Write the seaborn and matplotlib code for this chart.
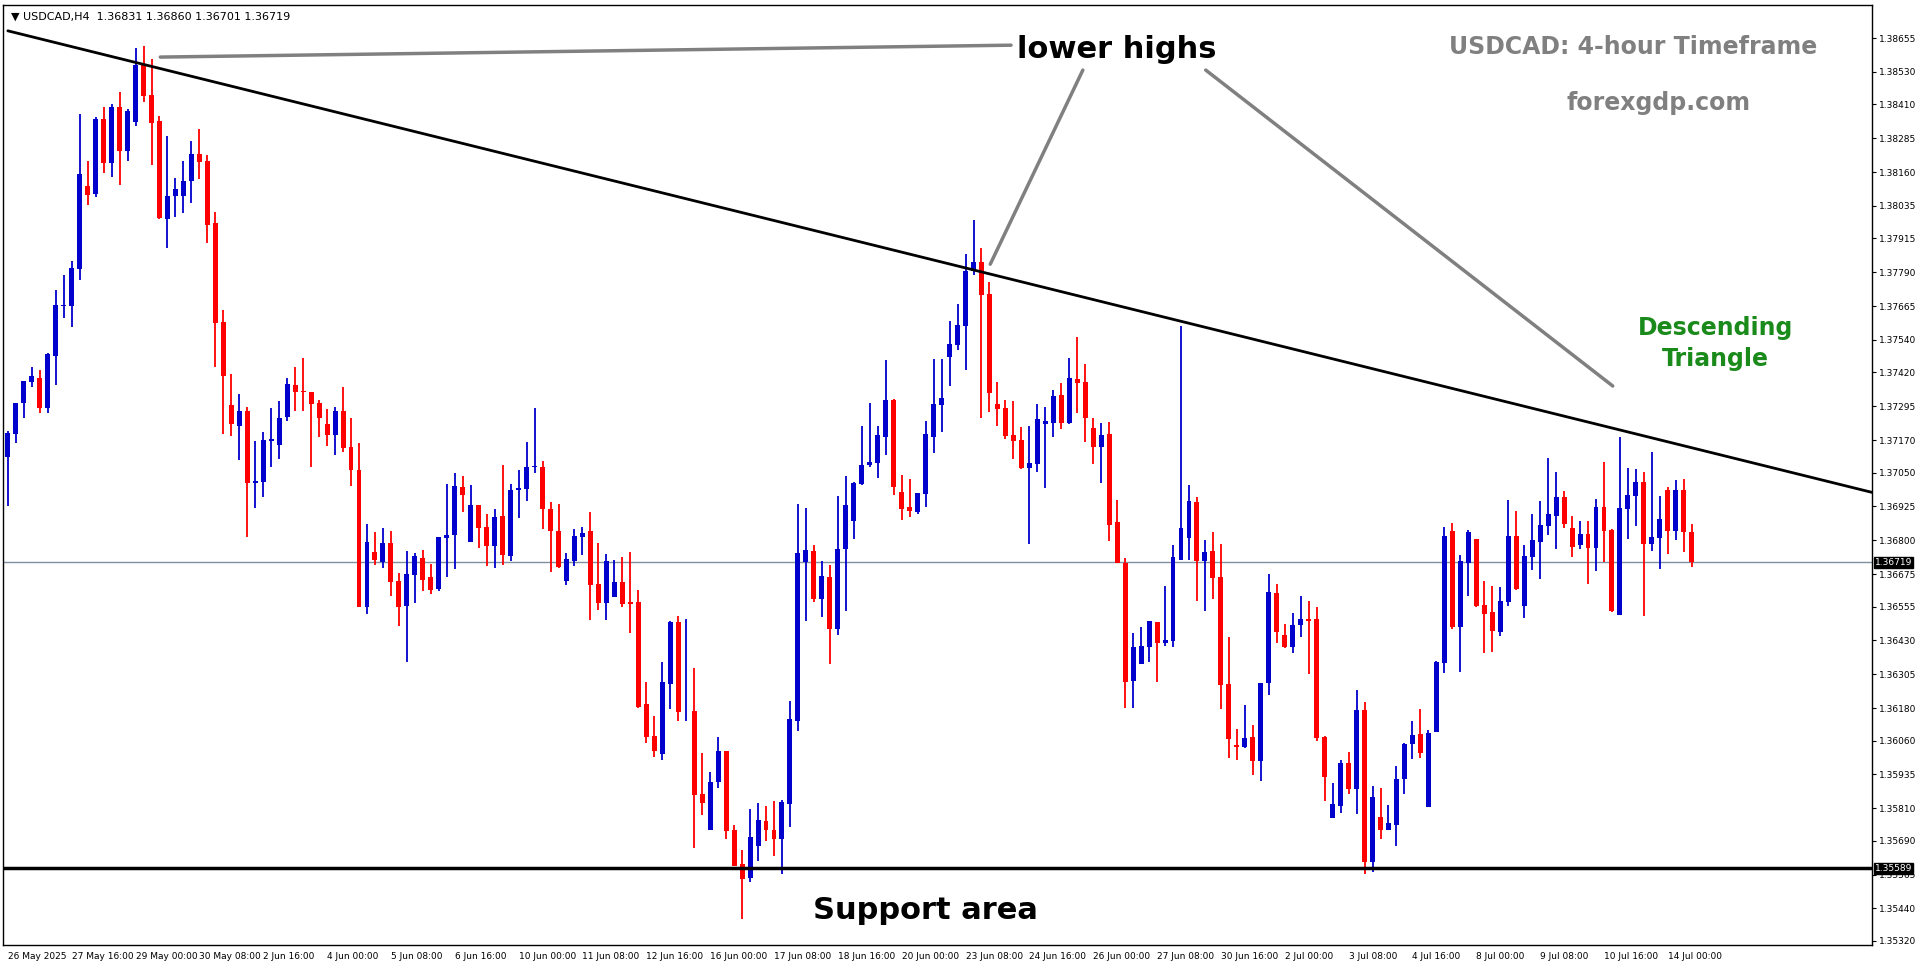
import numpy as np
import pandas as pd
import matplotlib
matplotlib.use("Agg")
import matplotlib.pyplot as plt
import seaborn as sns

# USDCAD H4 candles
opens = [
    1.37109, 1.37193, 1.37306, 1.37383, 1.37399, 1.37290, 1.37482, 1.37667, 1.37667, 1.37801,
    1.38109, 1.38079, 1.38358, 1.38193, 1.38399, 1.38239, 1.38344, 1.38556, 1.38444, 1.38350,
    1.37987, 1.38072, 1.38072, 1.38126, 1.38228, 1.38200, 1.37971, 1.37605, 1.37298, 1.37223,
    1.37276, 1.37011, 1.37015, 1.37165, 1.37153, 1.37257, 1.37374, 1.37353, 1.37349, 1.37306,
    1.37229, 1.37189, 1.37278, 1.37146, 1.37060, 1.36555, 1.36757, 1.36721, 1.36789, 1.36650,
    1.36559, 1.36672, 1.36735, 1.36666, 1.36621, 1.36810, 1.36820, 1.36997, 1.36792, 1.36931,
    1.36850, 1.36779, 1.36890, 1.36742, 1.36984, 1.36990, 1.37070, 1.37072, 1.36916, 1.36836,
    1.36651, 1.36725, 1.36814, 1.36835, 1.36639, 1.36570, 1.36589, 1.36646, 1.36573, 1.36573,
    1.36196, 1.36078, 1.36009, 1.36271, 1.36499, 1.36164, 1.36169, 1.35863, 1.35730, 1.35907,
    1.36022, 1.35730, 1.35604, 1.35554, 1.35672, 1.35763, 1.35730, 1.35698, 1.35827, 1.36134,
    1.36721, 1.36760, 1.36583, 1.36664, 1.36472, 1.36768, 1.36871, 1.37008, 1.37078, 1.37085,
    1.37181, 1.37318, 1.36978, 1.36923, 1.36904, 1.36971, 1.37181, 1.37300, 1.37477, 1.37521,
    1.37591, 1.37794, 1.37828, 1.37709, 1.37303, 1.37288, 1.37189, 1.37170, 1.37067, 1.37082,
    1.37229, 1.37233, 1.37336, 1.37233, 1.37395, 1.37384, 1.37215, 1.37144, 1.37192, 1.36867,
    1.36716, 1.36280, 1.36343, 1.36406, 1.36498, 1.36421, 1.36428, 1.36728, 1.36810, 1.36941,
    1.36724, 1.36760, 1.36664, 1.36269, 1.36043, 1.36038, 1.36074, 1.35986, 1.36273, 1.36606,
    1.36450, 1.36406, 1.36487, 1.36509, 1.36509, 1.36074, 1.35776, 1.35820, 1.35978, 1.35883,
    1.36173, 1.35613, 1.35778, 1.35728, 1.35750, 1.35920, 1.36049, 1.36085, 1.35816, 1.36093,
    1.36348, 1.36834, 1.36480, 1.36717, 1.36805, 1.36562, 1.36535, 1.36461, 1.36573, 1.36815,
    1.36558, 1.36739, 1.36795, 1.36854, 1.36891, 1.36960, 1.36845, 1.36783, 1.36823, 1.36772,
    1.36923, 1.36838, 1.36525, 1.36915, 1.36963, 1.37015, 1.36787, 1.36809, 1.36985, 1.36835,
    1.36985, 1.36831,
]
highs = [
    1.37202, 1.37309, 1.37390, 1.37439, 1.37429, 1.37491, 1.37725, 1.37780, 1.37832, 1.38375,
    1.38200, 1.38365, 1.38399, 1.38412, 1.38457, 1.38392, 1.38619, 1.38626, 1.38577, 1.38367,
    1.38294, 1.38140, 1.38201, 1.38275, 1.38318, 1.38225, 1.38014, 1.37651, 1.37413, 1.37340,
    1.37294, 1.37165, 1.37199, 1.37288, 1.37315, 1.37399, 1.37439, 1.37475, 1.37349, 1.37319,
    1.37285, 1.37294, 1.37367, 1.37251, 1.37161, 1.36860, 1.36831, 1.36845, 1.36834, 1.36679,
    1.36761, 1.36752, 1.36765, 1.36713, 1.36813, 1.37008, 1.37049, 1.37038, 1.37005, 1.36931,
    1.36898, 1.36916, 1.37079, 1.37008, 1.37060, 1.37163, 1.37289, 1.37093, 1.36942, 1.36935,
    1.36754, 1.36842, 1.36850, 1.36905, 1.36790, 1.36750, 1.36728, 1.36739, 1.36757, 1.36617,
    1.36277, 1.36152, 1.36351, 1.36502, 1.36521, 1.36510, 1.36329, 1.36014, 1.35944, 1.36073,
    1.36022, 1.35747, 1.35656, 1.35807, 1.35830, 1.35819, 1.35837, 1.35841, 1.36206, 1.36934,
    1.36918, 1.36783, 1.36723, 1.36709, 1.36963, 1.37037, 1.37016, 1.37222, 1.37307, 1.37222,
    1.37466, 1.37322, 1.37041, 1.37026, 1.36975, 1.37240, 1.37469, 1.37469, 1.37610, 1.37673,
    1.37857, 1.37983, 1.37880, 1.37754, 1.37384, 1.37318, 1.37314, 1.37218, 1.37222, 1.37303,
    1.37292, 1.37355, 1.37381, 1.37473, 1.37551, 1.37451, 1.37251, 1.37233, 1.37237, 1.36949,
    1.36735, 1.36458, 1.36480, 1.36502, 1.36498, 1.36631, 1.36783, 1.37591, 1.37004, 1.36960,
    1.36801, 1.36831, 1.36786, 1.36443, 1.36103, 1.36192, 1.36118, 1.36273, 1.36676, 1.36639,
    1.36491, 1.36532, 1.36594, 1.36576, 1.36554, 1.36077, 1.35904, 1.35989, 1.36018, 1.36247,
    1.36203, 1.35893, 1.35885, 1.35822, 1.35967, 1.36051, 1.36133, 1.36177, 1.36099, 1.36354,
    1.36849, 1.36864, 1.36746, 1.36838, 1.36805, 1.36651, 1.36631, 1.36628, 1.36948, 1.36909,
    1.36782, 1.36897, 1.36945, 1.37104, 1.37052, 1.36982, 1.36889, 1.36871, 1.36871, 1.36952,
    1.37089, 1.36840, 1.37182, 1.37067, 1.37063, 1.37052, 1.37126, 1.36963, 1.36996, 1.37022,
    1.37026, 1.36860,
]
lows = [
    1.36925, 1.37159, 1.37251, 1.37368, 1.37272, 1.37272, 1.37372, 1.37620, 1.37587, 1.37762,
    1.38039, 1.38070, 1.38156, 1.38141, 1.38113, 1.38201, 1.38331, 1.38420, 1.38187, 1.37987,
    1.37879, 1.37996, 1.38008, 1.38047, 1.38134, 1.37897, 1.37442, 1.37193, 1.37186, 1.37097,
    1.36814, 1.36919, 1.36959, 1.37070, 1.37102, 1.37239, 1.37279, 1.37276, 1.37069, 1.37183,
    1.37150, 1.37116, 1.37125, 1.37001, 1.36552, 1.36528, 1.36710, 1.36699, 1.36596, 1.36484,
    1.36349, 1.36570, 1.36614, 1.36602, 1.36614, 1.36666, 1.36694, 1.36906, 1.36792, 1.36773,
    1.36705, 1.36699, 1.36709, 1.36725, 1.36884, 1.36947, 1.37050, 1.36843, 1.36683, 1.36699,
    1.36635, 1.36705, 1.36744, 1.36504, 1.36543, 1.36504, 1.36589, 1.36552, 1.36456, 1.36182,
    1.36053, 1.35998, 1.35989, 1.36175, 1.36131, 1.36134, 1.35665, 1.35785, 1.35730, 1.35886,
    1.35698, 1.35597, 1.35402, 1.35539, 1.35617, 1.35691, 1.35635, 1.35569, 1.35742, 1.36097,
    1.36503, 1.36573, 1.36515, 1.36344, 1.36450, 1.36540, 1.36805, 1.37004, 1.37071, 1.37030,
    1.37115, 1.36967, 1.36875, 1.36886, 1.36897, 1.36923, 1.37122, 1.37200, 1.37370, 1.37503,
    1.37429, 1.37780, 1.37251, 1.37274, 1.37222, 1.37174, 1.37100, 1.37063, 1.36786, 1.37052,
    1.36993, 1.37181, 1.37211, 1.37229, 1.37270, 1.37163, 1.37082, 1.37011, 1.36797, 1.36716,
    1.36181, 1.36181, 1.36343, 1.36350, 1.36277, 1.36410, 1.36406, 1.36728, 1.36728, 1.36576,
    1.36540, 1.36583, 1.36178, 1.35997, 1.35990, 1.36031, 1.35933, 1.35912, 1.36230, 1.36422,
    1.36402, 1.36384, 1.36443, 1.36306, 1.36059, 1.35837, 1.35776, 1.35793, 1.35863, 1.35789,
    1.35569, 1.35576, 1.35698, 1.35728, 1.35669, 1.35861, 1.35992, 1.35997, 1.35816, 1.36093,
    1.36311, 1.36474, 1.36314, 1.36594, 1.36554, 1.36382, 1.36388, 1.36447, 1.36558, 1.36617,
    1.36514, 1.36691, 1.36658, 1.36820, 1.36769, 1.36846, 1.36739, 1.36769, 1.36639, 1.36687,
    1.36721, 1.36536, 1.36525, 1.36806, 1.36854, 1.36521, 1.36761, 1.36695, 1.36750, 1.36802,
    1.36758, 1.36701,
]
closes = [
    1.37196, 1.37309, 1.37390, 1.37407, 1.37290, 1.37488, 1.37669, 1.37669, 1.37807, 1.38153,
    1.38076, 1.38358, 1.38193, 1.38399, 1.38239, 1.38387, 1.38555, 1.38441, 1.38340, 1.37990,
    1.38072, 1.38097, 1.38129, 1.38228, 1.38198, 1.37965, 1.37604, 1.37407, 1.37229, 1.37278,
    1.37011, 1.37019, 1.37171, 1.37175, 1.37253, 1.37378, 1.37347, 1.37349, 1.37304, 1.37251,
    1.37189, 1.37278, 1.37140, 1.37058, 1.36555, 1.36794, 1.36727, 1.36789, 1.36647, 1.36555,
    1.36676, 1.36742, 1.36654, 1.36617, 1.36813, 1.36820, 1.37001, 1.36968, 1.36931, 1.36847,
    1.36779, 1.36887, 1.36746, 1.36986, 1.36992, 1.37072, 1.37075, 1.36917, 1.36836, 1.36702,
    1.36731, 1.36816, 1.36827, 1.36635, 1.36570, 1.36722, 1.36646, 1.36566, 1.36566, 1.36186,
    1.36075, 1.36020, 1.36277, 1.36499, 1.36164, 1.36166, 1.35859, 1.35831, 1.35907, 1.36022,
    1.35727, 1.35597, 1.35550, 1.35704, 1.35767, 1.35731, 1.35698, 1.35833, 1.36140, 1.36753,
    1.36764, 1.36583, 1.36668, 1.36472, 1.36768, 1.36930, 1.37011, 1.37078, 1.37089, 1.37189,
    1.37318, 1.36997, 1.36915, 1.36908, 1.36975, 1.37192, 1.37303, 1.37325, 1.37525, 1.37595,
    1.37794, 1.37828, 1.37706, 1.37344, 1.37285, 1.37185, 1.37167, 1.37067, 1.37085, 1.37248,
    1.37240, 1.37333, 1.37233, 1.37399, 1.37381, 1.37251, 1.37144, 1.37189, 1.36856, 1.36716,
    1.36277, 1.36406, 1.36409, 1.36502, 1.36421, 1.36432, 1.36738, 1.36845, 1.36945, 1.36723,
    1.36756, 1.36662, 1.36267, 1.36066, 1.36038, 1.36070, 1.35986, 1.36273, 1.36609, 1.36461,
    1.36406, 1.36487, 1.36509, 1.36503, 1.36070, 1.35927, 1.35826, 1.35978, 1.35883, 1.36173,
    1.35613, 1.35853, 1.35731, 1.35756, 1.35920, 1.36049, 1.36081, 1.36016, 1.36088, 1.36351,
    1.36816, 1.36480, 1.36724, 1.36831, 1.36557, 1.36529, 1.36466, 1.36575, 1.36815, 1.36621,
    1.36742, 1.36801, 1.36856, 1.36897, 1.36960, 1.36861, 1.36776, 1.36823, 1.36772, 1.36923,
    1.36835, 1.36540, 1.36919, 1.36967, 1.37015, 1.36787, 1.36812, 1.36878, 1.36835, 1.36985,
    1.36831, 1.36719,
]

x_labels = ["26 May 2025", "27 May 16:00", "29 May 00:00", "30 May 08:00", "2 Jun 16:00",
            "4 Jun 00:00", "5 Jun 08:00", "6 Jun 16:00", "10 Jun 00:00", "11 Jun 08:00",
            "12 Jun 16:00", "16 Jun 00:00", "17 Jun 08:00", "18 Jun 16:00", "20 Jun 00:00",
            "23 Jun 08:00", "24 Jun 16:00", "26 Jun 00:00", "27 Jun 08:00", "30 Jun 16:00",
            "2 Jul 00:00", "3 Jul 08:00", "4 Jul 16:00", "8 Jul 00:00", "9 Jul 08:00",
            "10 Jul 16:00", "14 Jul 00:00"]
y_ticks = [1.38655, 1.38530, 1.38410, 1.38285, 1.38160, 1.38035, 1.37915, 1.37790, 1.37665,
           1.37540, 1.37420, 1.37295, 1.37170, 1.37050, 1.36925, 1.36800, 1.36675, 1.36555,
           1.36430, 1.36305, 1.36180, 1.36060, 1.35935, 1.35810, 1.35690, 1.35565, 1.35440,
           1.35320]

last_price = 1.36719
support = 1.35589
trend_x = [0, 234]
trend_y = [1.38682, 1.36974]
hl_line1 = ([19.1, 125.7], [1.38585, 1.38629])
hl_line2 = ([134.7, 123.1], [1.38537, 1.37820])
hl_line3 = ([150.1, 201.1], [1.38537, 1.37370])

df = pd.DataFrame({"open": opens, "high": highs, "low": lows, "close": closes})
df["bar"] = np.arange(len(df))
df["up"] = df["close"] >= df["open"]

sns.set_theme(style="white")
plt.rcParams["font.family"] = ["DejaVu Sans"]
plt.rcParams["text.color"] = "black"

fig = plt.figure(figsize=(19.16, 9.64), dpi=100)
ax = fig.add_axes([0.0016, 0.0197, 0.9755, 0.975])

blue, red = "#0000cc", "#ff0000"
colors = np.where(df["up"], blue, red)

# wicks and bodies
ax.vlines(df["bar"], df["low"], df["high"], colors=colors, linewidth=1.3, zorder=3)
body_lo = df[["open", "close"]].min(axis=1)
body_h = (df["close"] - df["open"]).abs().clip(lower=0.00003)
ax.bar(df["bar"], body_h, bottom=body_lo, width=0.62, color=colors, linewidth=0, zorder=4)

# lines
ax.axhline(last_price, color="#8090a0", linewidth=1, zorder=1)
ax.axhline(support, color="black", linewidth=2.5, zorder=5)
sns.lineplot(x=trend_x, y=trend_y, ax=ax, color="black", linewidth=2, zorder=5)
for lx, ly in (hl_line1, hl_line2, hl_line3):
    ax.plot(lx, ly, color="#808080", linewidth=2.5, zorder=5)

ax.set_xlim(-0.6, 233.6)
ax.set_ylim(1.35305, 1.38777)

# annotations
ax.text(139, 1.38614, "lower highs", fontsize=22, fontweight="bold", ha="center", va="center",
        color="black")
ax.text(115, 1.35433, "Support area", fontsize=22, fontweight="bold", ha="center", va="center",
        color="black")
ax.text(0.872, 0.955, "USDCAD: 4-hour Timeframe", transform=ax.transAxes, fontsize=17,
        fontweight="bold", color="#808080", ha="center", va="center")
ax.text(0.886, 0.896, "forexgdp.com", transform=ax.transAxes, fontsize=17,
        fontweight="bold", color="#808080", ha="center", va="center")
ax.text(0.916, 0.64, "Descending\nTriangle", transform=ax.transAxes, fontsize=17,
        fontweight="bold", color="#1a8a1a", ha="center", va="center", linespacing=1.4)
ax.text(0.004, 0.993, "\u25bc USDCAD,H4  1.36831 1.36860 1.36701 1.36719", transform=ax.transAxes,
        fontsize=8, ha="left", va="top", color="black")

# axes styling
ax.yaxis.tick_right()
ax.set_yticks(y_ticks)
ax.set_yticklabels([f"{v:.5f}" for v in y_ticks], fontsize=6.5)
ax.set_xticks(np.arange(len(x_labels)) * 8)
ax.set_xticklabels(x_labels, fontsize=6.5, ha="left")
ax.tick_params(axis="both", length=3, width=0.8, color="black", direction="out", pad=2,
               labelcolor="black")
for s in ax.spines.values():
    s.set_color("black")
    s.set_linewidth(1)
ax.set_xlabel("")
ax.set_ylabel("")

for price in (last_price, support):
    ax.annotate(f"{price:.5f}", xy=(1.0, price), xycoords=("axes fraction", "data"),
                xytext=(2, 0), textcoords="offset points", fontsize=6.5, color="white",
                va="center", ha="left", annotation_clip=False,
                bbox=dict(boxstyle="square,pad=0.1", fc="black", ec="black"))

fig.savefig("out.png", dpi=100, facecolor="white")
